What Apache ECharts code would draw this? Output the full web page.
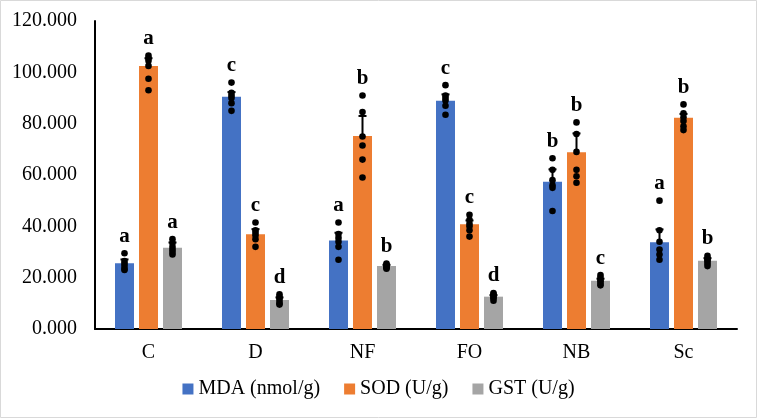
<!DOCTYPE html>
<html>
<head>
<meta charset="utf-8">
<script src="https://cdn.jsdelivr.net/npm/echarts@6/dist/echarts.min.js"></script>
<style>
html,body{margin:0;padding:0;background:#fff;}
#chart{width:757px;height:418px;}
</style>
</head>
<body>
<div id="chart"></div>
<script>
const categories = ['C', 'D', 'NF', 'FO', 'NB', 'Sc'];
const yTicks = [0, 20, 40, 60, 80, 100, 120];

const mdaMean = [25.6, 90.5, 34.5, 88.9, 57.4, 33.8];
const sodMean = [102.5, 36.9, 75.2, 40.8, 68.9, 82.3];
const gstMean = [31.7, 11.3, 24.5, 12.6, 18.8, 26.6];

const mdaErr = [1.5, 1.8, 3.0, 2.5, 4.8, 5.0];
const sodErr = [3.0, 2.0, 7.8, 1.5, 7.3, 1.5];
const gstErr = [2.0, 1.0, 0.5, 0.6, 0.8, 1.0];

const mdaLetters = ['a', 'c', 'a', 'c', 'b', 'a'];
const sodLetters = ['a', 'c', 'b', 'c', 'b', 'b'];
const gstLetters = ['a', 'd', 'b', 'd', 'c', 'b'];

const mdaPoints = [[29.5, 26.5, 25.5, 24.5, 23.5, 23.0], [96, 92, 91, 90, 88, 85], [41.5, 37, 35.5, 34, 32, 27], [95, 91, 90, 89, 87, 83.5], [66.5, 62, 58, 56, 55, 46], [50, 38.5, 34, 31, 29, 27]];
const sodPoints = [[106.5, 105.5, 104.5, 102.5, 97.5, 93], [41.5, 38.5, 37.5, 36.5, 35, 32], [91, 84.5, 75, 71.5, 66, 59], [44.5, 42.5, 41, 40, 38.5, 36], [80.5, 76, 69, 62, 59.5, 57], [87.5, 84, 82.5, 81, 79, 77.5]];
const gstPoints = [[35, 33.5, 32, 31, 30, 29], [13.5, 12.5, 12, 11, 10, 9.5], [25.5, 25, 24.5, 24, 24, 23.5], [14, 13.5, 13, 12.5, 12, 11], [21, 20, 19, 18.5, 17.5, 17], [28.5, 27.5, 27, 26.5, 25.5, 24.5]];

const seriesNames = ['MDA (nmol/g)', 'SOD (U/g)', 'GST (U/g)'];
const colors = ['#4472C4', '#ED7D31', '#A5A5A5'];

const BAR_W = 19, BAR_GAP = 5;
const FONT = '"Liberation Serif", "Times New Roman", serif';

function overlay(idx, means, errs, points, letters) {
  const offset = (idx - 1) * (BAR_W + BAR_GAP);
  return {
    type: 'custom',
    z: 5,
    silent: true,
    data: means.map((m, i) => [i, m, errs[i]]),
    encode: { x: 0, y: 1 },
    renderItem: function (params, api) {
      const i = api.value(0);
      const mean = api.value(1);
      const err = api.value(2);
      const cx = api.coord([i, 0])[0] + offset;
      const yMean = api.coord([i, mean])[1];
      const yTop = api.coord([i, mean + err])[1];
      const children = [];
      children.push({ type: 'line', shape: { x1: cx, y1: yMean, x2: cx, y2: yTop }, style: { stroke: '#000', lineWidth: 2 } });
      children.push({ type: 'line', shape: { x1: cx - 4, y1: yTop, x2: cx + 4, y2: yTop }, style: { stroke: '#000', lineWidth: 2 } });
      const pts = points[params.dataIndex];
      let minY = yTop;
      pts.forEach(v => {
        const py = api.coord([i, v])[1];
        if (py < minY) minY = py;
        children.push({ type: 'circle', shape: { cx: cx, cy: py, r: 3.3 }, style: { fill: '#000' } });
      });
      children.push({ type: 'text', style: { text: letters[params.dataIndex], x: cx, y: minY - 17, fill: '#000', font: 'bold 21px ' + FONT, align: 'center', verticalAlign: 'middle' } });
      return { type: 'group', children: children };
    }
  };
}

const chart = echarts.init(document.getElementById('chart'), null, { renderer: 'canvas' });
chart.setOption({
  animation: false,
  backgroundColor: '#fff',
  color: colors,
  graphic: [{ type: 'rect', shape: { x: 0.5, y: 0.5, width: 756, height: 417 }, style: { fill: 'none', stroke: '#d9d9d9', lineWidth: 1 }, silent: true }],
  grid: { left: 95, right: 20, top: 21, bottom: 89, containLabel: false },
  legend: {
    data: seriesNames,
    bottom: 14,
    left: 'center',
    itemWidth: 11,
    itemHeight: 11,
    itemGap: 24,
    icon: 'rect',
    textStyle: { fontFamily: FONT, fontSize: 20, color: '#000' }
  },
  xAxis: {
    type: 'category',
    data: categories,
    axisLine: { lineStyle: { color: '#000', width: 2 } },
    axisTick: { show: false },
    axisLabel: { fontFamily: FONT, fontSize: 20, color: '#000', margin: 14 }
  },
  yAxis: {
    type: 'value',
    min: yTicks[0],
    max: yTicks[yTicks.length - 1],
    interval: yTicks[1] - yTicks[0],
    axisLine: { show: true, lineStyle: { color: '#000', width: 2 } },
    axisTick: { show: false },
    splitLine: { show: false },
    axisLabel: { fontFamily: FONT, fontSize: 20, color: '#000', margin: 18, formatter: v => v.toFixed(3) }
  },
  series: [
    { name: seriesNames[0], type: 'bar', data: mdaMean, barWidth: BAR_W, barGap: (BAR_GAP / BAR_W * 100) + '%', itemStyle: { color: colors[0] } },
    { name: seriesNames[1], type: 'bar', data: sodMean, barWidth: BAR_W, barGap: (BAR_GAP / BAR_W * 100) + '%', itemStyle: { color: colors[1] } },
    { name: seriesNames[2], type: 'bar', data: gstMean, barWidth: BAR_W, barGap: (BAR_GAP / BAR_W * 100) + '%', itemStyle: { color: colors[2] } },
    overlay(0, mdaMean, mdaErr, mdaPoints, mdaLetters),
    overlay(1, sodMean, sodErr, sodPoints, sodLetters),
    overlay(2, gstMean, gstErr, gstPoints, gstLetters)
  ]
});
</script>
</body>
</html>
